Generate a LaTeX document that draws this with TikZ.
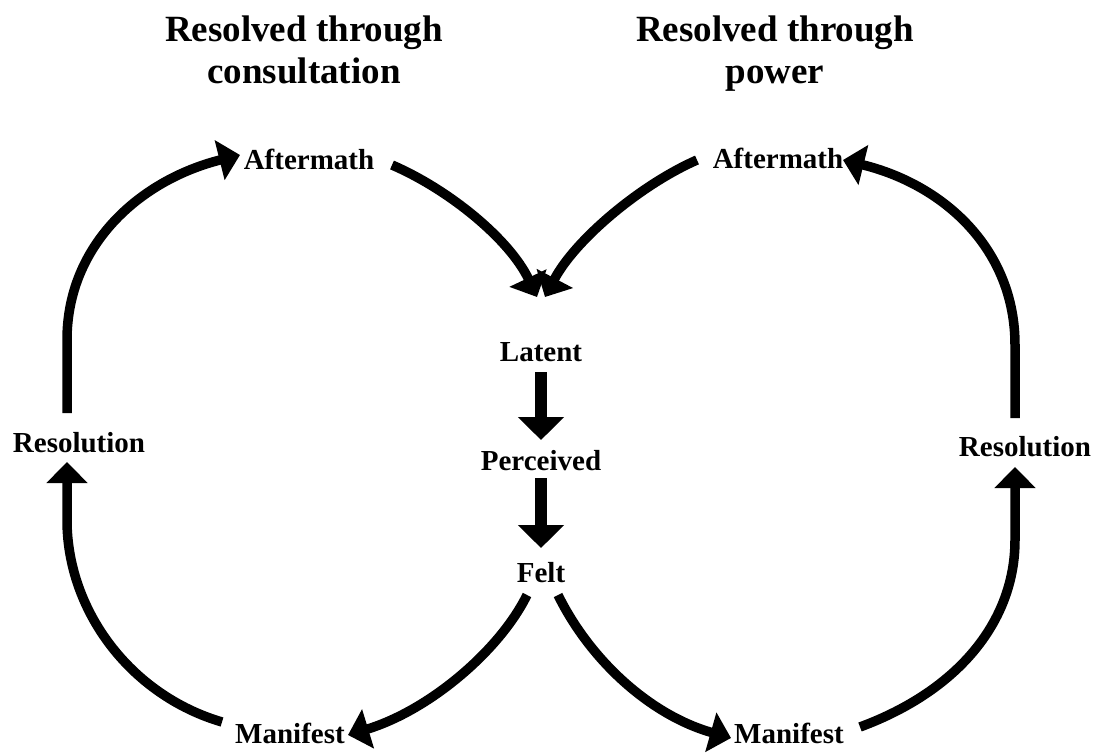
\documentclass[tikz,border=0pt]{standalone}
\usepackage{fontspec}
\setmainfont{Liberation Serif}
\usetikzlibrary{arrows.meta}
\begin{document}
\begin{tikzpicture}[x=1pt,y=1pt,
  lbl/.style={inner sep=0pt, font=\fontsize{29}{34}\selectfont\bfseries, anchor=base},
  ttl/.style={inner sep=0pt, font=\fontsize{37}{42}\selectfont\bfseries, align=center, anchor=north},
  curv/.style={line width=9.5pt, -{Triangle[width=40pt,length=21pt]}},
  strt/.style={line width=12pt, -{Triangle[width=45pt,length=23pt]}}]
\useasboundingbox (0,0) rectangle (1112,-754);
% titles
\node[ttl] (tL) at (304,-16) {Resolved through\\consultation};
\node[ttl] (tR) at (775,-16) {Resolved through\\power};
% labels
\node[lbl] (lAfter) at (309,-170) {Aftermath};
\node[lbl] (rAfter) at (778,-169) {Aftermath};
\node[lbl] (lat) at (541,-361) {Latent};
\node[lbl] (per) at (541,-470) {Perceived};
\node[lbl] (felt) at (541,-582) {Felt};
\node[lbl] (lRes) at (79,-452) {Resolution};
\node[lbl] (rRes) at (1025,-456) {Resolution};
\node[lbl] (lMan) at (290,-743) {Manifest};
\node[lbl] (rMan) at (789,-743) {Manifest};
% connectors
\draw[curv] ([shift={(-12,39)}]lRes.base) -- ++(0,73)
  .. controls +(0,95) and +(-100,-25) .. ([shift={(-69,15)}]lAfter.base);
\draw[curv] ([shift={(83,5)}]lAfter.base)
  .. controls +(58,-25) and +(-27,57) .. ([shift={(-4,64)}]lat.base);
\draw[curv] ([shift={(-81,9)}]rAfter.base)
  .. controls +(-57,-25) and +(30,57) .. ([shift={(4,64)}]lat.base);
\draw[strt] ([shift={(0,-11)}]lat.base) -- ([shift={(0,30)}]per.base);
\draw[strt] ([shift={(0,-8)}]per.base) -- ([shift={(0,34)}]felt.base);
\draw[curv] ([shift={(-14,-13)}]felt.base)
  .. controls +(-27,-55) and +(82,25) .. ([shift={(58,8)}]lMan.base);
\draw[curv] ([shift={(-68,21)}]lMan.base)
  .. controls +(-92,27) and +(0,-90) .. ([shift={(-12,-68)}]lRes.base)
  -- ([shift={(-12,-10)}]lRes.base);
\draw[curv] ([shift={(17,-13)}]felt.base)
  .. controls +(32,-65) and +(-81,23) .. ([shift={(-58,5)}]rMan.base);
\draw[curv] ([shift={(71,16)}]rMan.base)
  .. controls +(100,37) and +(0,-80) .. ([shift={(-10,-84)}]rRes.base)
  -- ([shift={(-10,-11)}]rRes.base);
\draw[curv] ([shift={(-10,38)}]rRes.base) -- ++(0,73)
  .. controls +(0,95) and +(102,-25) .. ([shift={(65,9)}]rAfter.base);
\end{tikzpicture}
\end{document}
